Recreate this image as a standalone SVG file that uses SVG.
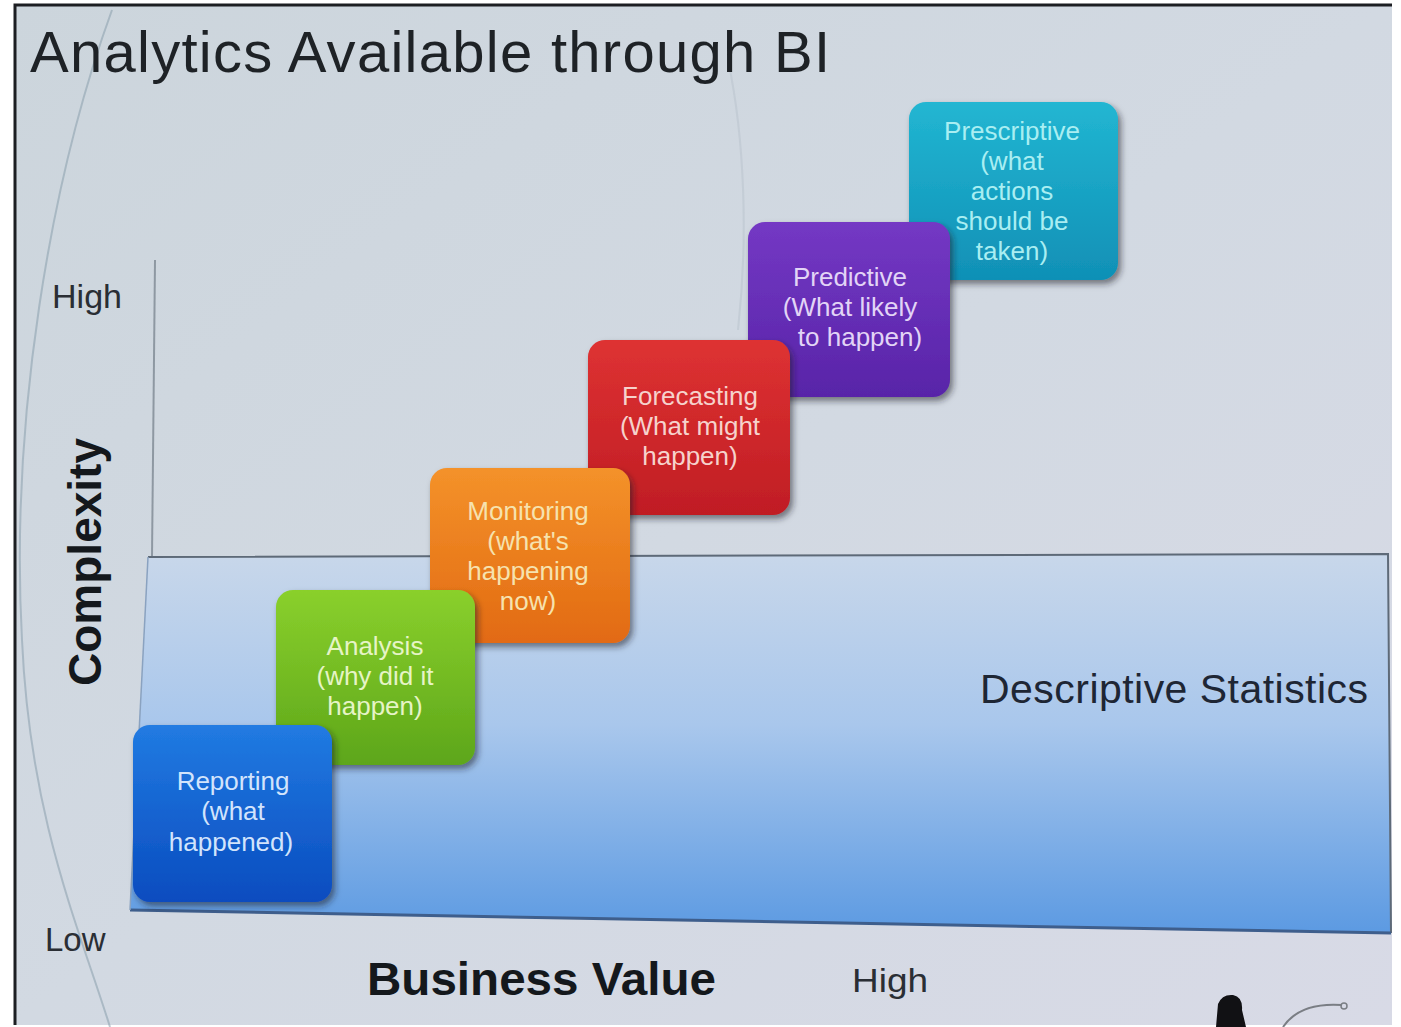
<svg xmlns="http://www.w3.org/2000/svg" width="1401" height="1027" viewBox="0 0 1401 1027">
  <defs>
    <linearGradient id="slideBg" x1="0" y1="0" x2="1" y2="1">
      <stop offset="0" stop-color="#ccd5dc"/>
      <stop offset="0.5" stop-color="#d2d9e2"/>
      <stop offset="1" stop-color="#d8dae6"/>
    </linearGradient>
    <linearGradient id="descBg" x1="0" y1="0" x2="0" y2="1">
      <stop offset="0" stop-color="#c8d7ea"/>
      <stop offset="0.45" stop-color="#a9c7ec"/>
      <stop offset="1" stop-color="#5c9ae2"/>
    </linearGradient>
    <linearGradient id="gBlue" x1="0" y1="0" x2="0" y2="1">
      <stop offset="0" stop-color="#217be2"/>
      <stop offset="1" stop-color="#0a4cbf"/>
    </linearGradient>
    <linearGradient id="gGreen" x1="0" y1="0" x2="0" y2="1">
      <stop offset="0" stop-color="#8ad02c"/>
      <stop offset="1" stop-color="#5da61a"/>
    </linearGradient>
    <linearGradient id="gOrange" x1="0" y1="0" x2="0" y2="1">
      <stop offset="0" stop-color="#f4922a"/>
      <stop offset="1" stop-color="#e26a12"/>
    </linearGradient>
    <linearGradient id="gRed" x1="0" y1="0" x2="0" y2="1">
      <stop offset="0" stop-color="#de3232"/>
      <stop offset="1" stop-color="#c01d24"/>
    </linearGradient>
    <linearGradient id="gPurple" x1="0" y1="0" x2="0" y2="1">
      <stop offset="0" stop-color="#7438c4"/>
      <stop offset="1" stop-color="#5824a8"/>
    </linearGradient>
    <linearGradient id="gCyan" x1="0" y1="0" x2="0" y2="1">
      <stop offset="0" stop-color="#22b6d2"/>
      <stop offset="1" stop-color="#1090b6"/>
    </linearGradient>
    <filter id="shadow" x="-10%" y="-10%" width="125%" height="130%">
      <feDropShadow dx="3" dy="4" stdDeviation="3" flood-color="#1a1a2a" flood-opacity="0.55"/>
    </filter>
    <style>
      .title { font-family: "Liberation Sans", Arial, sans-serif; font-size: 58px; fill: #1e2226; }
      .axis { font-family: "Liberation Sans", Arial, sans-serif; font-size: 33px; fill: #2a2e34; }
      .axisBold { font-family: "Liberation Sans", Arial, sans-serif; font-size: 46px; font-weight: bold; fill: #14181c; }
      .desc { font-family: "Liberation Sans", Arial, sans-serif; font-size: 41px; fill: #1e2634; }
      .box text { font-family: "Liberation Sans", Arial, sans-serif; font-size: 26px; text-anchor: middle; }
      .step { filter: url(#shadow); }
    </style>
  </defs>

  <!-- page and projected slide area -->
  <rect x="0" y="0" width="1401" height="1027" fill="#ffffff"/>
  <rect x="15" y="5" width="1377" height="1020" fill="url(#slideBg)"/>
  <path d="M15 1025 V5 H1392" fill="none" stroke="#1c1e22" stroke-width="3"/>

  <!-- faint reflection arcs on the screen -->
  <path d="M112 10 C50 180 10 420 22 640 C30 820 80 930 110 1027" fill="none" stroke="#8fa4b0" stroke-width="2" opacity="0.6"/>
  <path d="M728 60 C745 140 748 240 738 330" fill="none" stroke="#b8c2cc" stroke-width="2" opacity="0.5"/>

  <!-- title -->
  <text class="title" x="30" y="72" textLength="800" lengthAdjust="spacing">Analytics Available through BI</text>

  <!-- vertical axis -->
  <line x1="155" y1="260" x2="152" y2="557" stroke="#8e98a2" stroke-width="2"/>

  <!-- descriptive statistics band -->
  <g id="descriptive">
    <polygon points="148,557 1388,554 1391,933 130,910" fill="url(#descBg)"/>
    <path d="M148 557 L1388 554 L1391 933" fill="none" stroke="#5e6a78" stroke-width="2"/>
    <path d="M130 910 L1391 933" fill="none" stroke="#3e5e8c" stroke-width="3"/>
    <path d="M148 557 L130 910" fill="none" stroke="#8aa2c0" stroke-width="1.5"/>
    <text class="desc" x="980" y="703" textLength="388" lengthAdjust="spacing">Descriptive Statistics</text>
  </g>

  <!-- axis labels -->
  <text class="axis" x="52" y="308" textLength="70" lengthAdjust="spacingAndGlyphs">High</text>
  <text class="axisBold" transform="translate(101 562) rotate(-90)" text-anchor="middle">Complexity</text>
  <text class="axis" x="45" y="951">Low</text>
  <text class="axisBold" x="367" y="995" textLength="349" lengthAdjust="spacingAndGlyphs">Business Value</text>
  <text class="axis" x="852" y="992" font-size="34" textLength="76" lengthAdjust="spacingAndGlyphs">High</text>

  <!-- analytics steps, drawn top step first so lower steps overlap -->
  <g id="prescriptive" class="box">
    <rect class="step" x="909" y="102" width="209" height="178" rx="17" fill="url(#gCyan)"/>
    <g fill="#a9eef2">
      <text x="1012" y="140">Prescriptive</text>
      <text x="1012" y="170">(what</text>
      <text x="1012" y="200">actions</text>
      <text x="1012" y="230">should be</text>
      <text x="1012" y="260">taken)</text>
    </g>
  </g>
  <g id="predictive" class="box">
    <rect class="step" x="748" y="222" width="202" height="175" rx="17" fill="url(#gPurple)"/>
    <g fill="#e2d4f6">
      <text x="850" y="286">Predictive</text>
      <text x="850" y="316">(What  likely</text>
      <text x="860" y="346">to happen)</text>
    </g>
  </g>
  <g id="forecasting" class="box">
    <rect class="step" x="588" y="340" width="202" height="175" rx="17" fill="url(#gRed)"/>
    <g fill="#f6d2cc">
      <text x="690" y="405">Forecasting</text>
      <text x="690" y="435">(What might</text>
      <text x="690" y="465">happen)</text>
    </g>
  </g>
  <g id="monitoring" class="box">
    <rect class="step" x="430" y="468" width="200" height="175" rx="17" fill="url(#gOrange)"/>
    <g fill="#f6e2ae">
      <text x="528" y="520">Monitoring</text>
      <text x="528" y="550">(what's</text>
      <text x="528" y="580">happening</text>
      <text x="528" y="610">now)</text>
    </g>
  </g>
  <g id="analysis" class="box">
    <rect class="step" x="276" y="590" width="199" height="175" rx="17" fill="url(#gGreen)"/>
    <g fill="#e6f4c6">
      <text x="375" y="655">Analysis</text>
      <text x="375" y="685">(why did it</text>
      <text x="375" y="715">happen)</text>
    </g>
  </g>
  <g id="reporting" class="box">
    <rect class="step" x="133" y="725" width="199" height="177" rx="17" fill="url(#gBlue)"/>
    <g fill="#d2e4fc">
      <text x="233" y="790">Reporting</text>
      <text x="233" y="820">(what</text>
      <text x="231" y="851">happened)</text>
    </g>
  </g>

  <!-- connectors: none between steps -->
  <g id="connectors"></g>

  <!-- presenter silhouette and microphone cable at lower right -->
  <path d="M1216 1027 L1218 1004 Q1222 994 1233 995 Q1243 997 1242 1010 L1246 1027 Z" fill="#111114"/>
  <path d="M1283 1027 Q1300 1002 1342 1005" fill="none" stroke="#7a7e84" stroke-width="2"/>
  <circle cx="1344" cy="1006" r="3" fill="none" stroke="#7a7e84" stroke-width="1.5"/>
</svg>
